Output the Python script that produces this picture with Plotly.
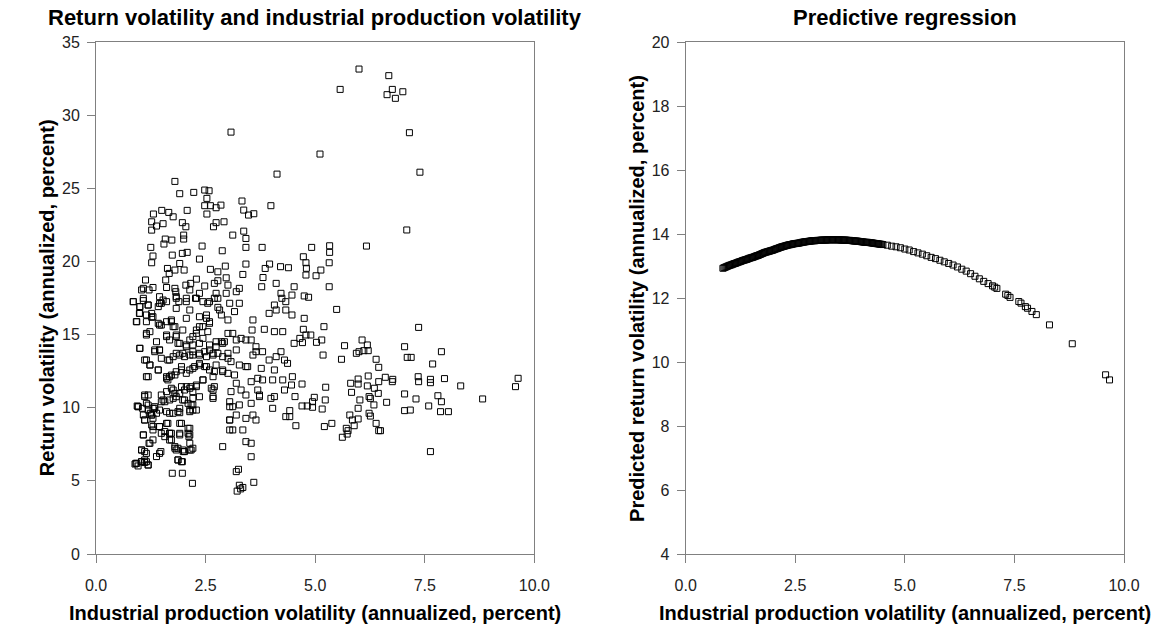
import plotly.graph_objects as go

# ---------------- Left panel: observed data ----------------
ip_vol = [
    # upper outliers
    6.00, 6.68, 6.76, 6.64, 6.83, 7.00, 5.57, 7.15, 5.11, 7.39, 7.09, 6.17, 4.92, 5.33, 5.33, 4.73, 4.79, 4.80, 4.79, 5.02, 5.13, 5.32, 4.52, 5.32,
    # upper cluster
    3.08, 4.13, 1.80, 1.91, 2.23, 2.48, 2.58, 2.53, 3.99, 3.33,
    2.48, 2.61, 2.74, 2.85, 2.53, 3.37, 3.48, 3.60, 1.50, 1.66,
    1.76, 2.08, 1.31, 1.27, 1.38, 1.27, 1.53, 1.97, 2.05, 2.00,
    2.00, 2.74, 2.92, 2.68, 3.12, 3.37, 3.42, 1.25, 1.58, 1.73,
    1.55, 2.42, 2.88, 3.42, 3.79, 1.30, 1.27, 1.74, 1.97, 2.08,
    2.36, 3.42, 3.96, 3.86, 4.21, 4.39, 1.63, 1.80, 1.91, 2.01,
    1.67, 2.61, 2.78, 2.95, 3.35, 3.81, 4.11, 1.13, 1.08, 1.30,
    1.59, 1.61, 1.80, 2.05, 2.16, 2.29, 2.48, 2.70, 2.78, 2.97,
    3.01, 3.27, 3.78,
    # middle cluster
    1.04, 1.21, 1.82, 2.14, 2.36, 2.74, 2.97, 3.20, 4.22,
    0.85, 1.08, 1.00, 1.19, 1.45, 1.49, 1.61, 1.83, 1.89, 2.06,
    2.14, 2.27, 2.44, 2.55, 2.70, 2.78, 3.05, 3.27, 3.16, 2.86,
    1.83, 1.42, 1.27, 0.99, 4.07, 4.33, 4.24, 4.11, 3.95, 4.33,
    0.93, 1.15, 1.27, 1.45, 1.61, 1.72, 1.80, 2.06, 2.36, 2.52,
    2.59, 2.44, 3.01, 3.58, 3.84, 3.56, 4.07, 4.26,
    1.15, 1.38, 1.61, 1.68, 1.83, 1.87, 2.06, 2.21, 2.29, 2.44,
    2.55, 2.74, 2.86, 2.93, 3.01, 3.12, 3.20, 3.31, 3.42, 3.54,
    3.65, 3.80, 1.00,
    1.11, 1.34, 1.45, 1.49, 1.64, 1.76, 1.91, 2.02, 2.14, 2.21,
    2.36, 2.48, 2.59, 2.67, 2.78, 2.89, 3.01, 3.08, 3.20, 3.42,
    3.58, 3.65, 3.95, 4.11, 4.22, 4.30, 4.37, 1.23,
    1.15, 1.42, 1.61, 1.68, 1.80, 1.95, 2.14, 2.25, 2.36, 2.48,
    2.59, 2.70, 2.89, 3.16, 3.27, 3.46, 3.77, 3.54, 3.69, 3.80,
    4.03, 4.26, 4.07,
    1.19, 1.49, 1.61, 1.72, 1.80, 1.95, 2.06, 2.14, 2.21, 2.29,
    2.44, 2.63, 2.70, 3.08, 3.20, 3.31, 3.42, 3.73, 3.99, 4.30, 3.69,
    0.96, 1.11, 1.19, 1.30, 1.49, 1.57, 1.76, 1.87, 2.02, 2.17,
    2.21, 2.67, 3.05, 3.12, 3.27, 3.54, 3.73, 4.03, 4.07,
    1.11, 1.27, 1.30, 1.45, 1.61, 1.68, 1.91, 2.10, 2.14, 3.05,
    3.20, 3.42, 3.58, 3.65, 3.12, 3.35, 4.33,
    1.08, 1.23, 1.49, 1.57, 1.72, 1.91, 2.14, 2.89, 3.42, 3.54, 1.68,
    1.04, 1.15, 1.45, 1.80, 1.83, 1.99, 2.14, 3.54, 0.93, 1.04, 1.11, 1.19, 1.87, 1.95,
    1.74, 1.97, 3.20, 3.25,
    # right-hand spread
    4.47, 4.75, 4.85, 5.49, 4.47, 4.75, 5.20, 4.73, 4.79, 4.90,
    4.65, 4.52, 4.71, 5.03, 5.15, 7.36, 6.07, 6.19, 5.67, 7.04,
    7.88, 5.18, 5.60, 5.94, 6.00, 6.11, 6.21, 6.39, 7.10, 7.19,
    6.45, 7.68, 4.48, 4.46, 4.70, 5.24, 4.54, 4.98, 4.94, 5.23,
    4.70, 4.82, 4.94, 5.16, 4.42, 4.42, 4.56, 5.21, 5.38, 5.62,
    5.73, 5.75, 5.71, 5.89, 5.79, 5.85, 5.98, 5.98, 5.98, 5.81,
    5.83, 6.02, 5.98, 6.21, 6.19, 6.23, 6.26, 6.35, 6.44, 6.34,
    6.23, 6.26, 6.39, 6.45, 6.49, 6.45, 6.60, 6.77, 6.76, 6.63,
    7.04, 7.30, 7.35, 7.36, 7.63, 7.63, 7.95, 8.32, 7.80, 7.88,
    7.59, 7.04, 7.17, 7.86, 8.04, 8.82, 9.57, 9.63, 7.63,
    # lower-left cluster
    0.94, 1.06, 1.15, 1.24, 1.34, 1.30, 1.38, 1.27, 1.30, 1.11,
    1.08, 1.21, 1.30, 1.04, 1.11, 1.15, 0.91, 1.04, 1.19, 1.38,
    1.48, 1.45, 1.57, 1.64, 1.68, 1.72, 1.68, 1.80, 1.87, 1.91,
    1.95, 1.91, 1.98, 2.02, 2.10, 2.14, 2.12, 2.17, 2.21, 2.14,
    2.21, 1.87, 1.97, 2.20, 3.05, 3.05, 0.89, 0.96, 1.11, 3.22,
    3.30, 3.27, 3.60, 3.35,
    # dense core (x 0.8-3.1, y 9.5-17.6)
    0.85, 1.00, 1.08, 1.19, 1.00, 0.92, 1.15, 1.30, 1.45, 1.53,
    1.42, 1.49, 1.23, 1.72, 1.76, 1.83, 1.98, 1.61, 1.15, 1.83,
    2.06, 2.29, 2.59, 2.78, 2.82, 2.52, 2.59, 2.36, 2.29, 2.14,
    1.91, 2.06, 2.21, 2.36, 2.59, 2.74, 2.89, 3.01, 2.67, 2.52,
    2.36, 2.21, 1.98, 1.83, 1.68, 1.45, 1.34, 1.00, 1.15, 1.23,
    1.42, 1.61, 1.72, 1.83, 1.95, 2.06, 2.21, 2.36, 2.52, 2.74,
    2.89, 3.01, 2.67, 2.44, 2.29, 2.17, 2.02, 1.91, 1.76, 1.64,
    1.19, 1.53, 1.68, 1.83, 1.98, 2.10, 2.21, 2.36, 2.67, 2.67,
    3.05, 1.11, 1.19, 1.34, 0.96, 1.08, 1.27, 1.45, 1.61, 1.76,
    1.91, 2.14, 2.29,
]

ret_vol = [
    33.15, 32.70, 31.76, 31.40, 31.15, 31.60, 31.76, 28.80, 27.34, 26.10, 22.15, 21.05, 20.96, 21.07, 20.62, 20.32, 19.91, 19.53, 19.07, 19.02, 19.41, 19.91, 18.27, 18.27,
    28.84, 25.97, 25.47, 24.63, 24.72, 24.88, 24.83, 24.31, 23.81, 24.13,
    23.81, 23.81, 23.67, 23.85, 23.24, 23.51, 23.17, 23.26, 23.49, 23.35,
    23.05, 23.49, 23.24, 22.71, 22.42, 22.14, 22.58, 22.65, 22.37, 21.80,
    21.53, 22.65, 22.71, 22.37, 21.80, 22.07, 21.57, 20.96, 21.53, 21.46,
    21.19, 21.05, 20.73, 20.96, 20.96, 20.37, 19.91, 20.43, 20.55, 20.62,
    20.16, 19.82, 19.82, 19.52, 19.64, 19.57, 19.52, 19.41, 19.86, 19.41,
    19.18, 19.46, 19.29, 19.68, 19.11, 18.90, 18.50, 18.73, 18.16, 18.22,
    18.73, 18.22, 18.16, 18.38, 18.50, 18.79, 18.32, 18.50, 18.68, 18.88,
    18.38, 18.16, 18.27,
    18.05, 18.05, 17.93, 18.05, 17.82, 17.82, 17.82, 17.93, 17.82,
    17.25, 17.32, 16.91, 17.02, 17.59, 17.14, 17.25, 17.48, 17.25, 17.25,
    16.68, 17.48, 17.25, 17.14, 17.48, 16.86, 17.14, 17.14, 16.57, 16.34,
    16.79, 16.91, 16.45, 16.45, 17.02, 17.25, 17.48, 16.68, 16.45, 16.68,
    15.88, 15.88, 16.18, 15.65, 15.88, 16.00, 15.54, 16.11, 16.22, 16.11,
    15.88, 15.54, 16.00, 16.00, 15.36, 15.31, 15.20, 15.20,
    14.97, 14.51, 14.97, 14.63, 14.97, 14.40, 14.29, 14.86, 15.31, 14.74,
    15.20, 14.51, 14.51, 14.51, 15.08, 15.08, 14.63, 14.74, 14.63, 14.63,
    14.17, 13.83, 14.06,
    13.26, 13.95, 13.95, 13.38, 13.26, 13.49, 13.60, 13.49, 13.60, 13.83,
    13.72, 13.83, 13.95, 13.60, 13.72, 13.49, 13.38, 13.15, 13.95, 12.81,
    13.60, 13.83, 13.26, 13.49, 13.83, 13.26, 13.03, 12.92,
    12.12, 12.58, 12.01, 12.12, 12.24, 12.81, 12.58, 12.81, 13.03, 12.81,
    12.58, 12.47, 12.47, 12.24, 12.92, 12.81, 12.69, 11.78, 12.01, 11.90,
    11.90, 11.90, 12.58,
    10.87, 10.87, 11.10, 11.33, 10.98, 11.44, 11.44, 11.33, 11.10, 11.44,
    11.90, 11.33, 11.44, 11.10, 11.67, 11.21, 10.87, 10.87, 10.64, 11.21, 11.21,
    10.07, 10.76, 9.84, 9.96, 10.41, 10.41, 10.64, 9.73, 10.53, 10.19,
    9.84, 10.76, 10.41, 10.07, 10.19, 10.30, 10.76, 9.96, 10.76,
    9.16, 9.50, 8.71, 8.71, 8.93, 8.25, 8.93, 8.59, 8.14, 9.16,
    9.50, 9.27, 9.50, 9.16, 8.48, 8.48, 9.39,
    8.14, 7.57, 8.25, 8.02, 8.25, 8.14, 7.57, 7.34, 7.68, 7.57, 7.79,
    7.11, 6.88, 6.88, 7.34, 7.11, 7.00, 7.11, 6.65, 6.20, 6.31, 6.43, 6.08, 6.43, 6.31,
    5.52, 5.52, 5.63, 5.79,
    17.70, 17.64, 17.55, 16.72, 16.34, 16.11, 15.54, 15.36, 14.97, 14.97,
    14.74, 14.40, 14.45, 14.47, 14.63, 15.49, 14.63, 14.29, 14.24, 14.17,
    13.83, 13.60, 13.31, 13.72, 13.83, 13.90, 13.90, 13.31, 13.44, 13.44,
    12.76, 12.99, 12.12, 11.55, 11.62, 11.40, 10.76, 10.71, 10.41, 10.53,
    10.12, 10.12, 10.03, 9.91, 9.80, 9.39, 8.77, 8.71, 8.93, 7.98,
    8.20, 8.43, 8.59, 8.77, 9.50, 9.16, 9.23, 11.96, 11.62, 11.67,
    11.05, 10.53, 9.96, 12.17, 11.49, 10.76, 10.64, 11.33, 10.98, 10.19,
    9.62, 9.43, 8.93, 8.43, 8.43, 11.78, 12.08, 11.94, 11.78, 10.37,
    10.94, 10.60, 12.12, 11.78, 11.94, 11.71, 11.99, 11.49, 10.82, 10.41,
    10.12, 9.80, 9.84, 9.73, 9.73, 10.60, 11.44, 12.01, 7.00,
    10.12, 9.96, 10.30, 9.62, 9.96, 9.28, 9.62, 8.82, 8.48, 9.16,
    8.14, 7.57, 7.80, 7.11, 7.00, 6.31, 6.20, 6.31, 6.09, 6.66,
    7.00, 8.71, 8.37, 8.93, 8.25, 7.80, 9.62, 7.23, 7.23, 9.66,
    8.93, 8.25, 7.11, 7.00, 8.25, 8.59, 8.02, 7.11, 7.23, 9.85,
    10.19, 6.43, 6.31, 4.83, 9.16, 8.48, 6.15, 6.02, 6.25, 4.30,
    4.45, 4.70, 4.90, 4.55,
    17.25, 16.91, 17.48, 17.02, 16.45, 15.88, 16.34, 16.22, 17.13, 17.36,
    15.77, 15.65, 15.20, 15.88, 15.54, 14.86, 15.31, 14.86, 15.08, 17.59,
    17.48, 17.48, 17.25, 17.48, 16.68, 16.34, 15.77, 15.54, 15.08, 14.63,
    14.40, 14.17, 14.29, 14.40, 14.29, 14.17, 14.40, 13.72, 13.72, 13.49,
    13.60, 13.60, 13.72, 13.72, 13.26, 13.94, 13.83, 14.06, 13.26, 12.92,
    12.58, 12.12, 12.23, 12.46, 12.58, 12.35, 12.69, 12.92, 12.81, 12.92,
    12.58, 12.35, 12.12, 11.90, 11.55, 11.44, 11.21, 10.98, 11.21, 11.90,
    12.12, 10.53, 10.53, 10.75, 10.53, 10.30, 10.64, 10.75, 11.21, 10.64,
    10.07, 10.87, 10.18, 10.07, 10.07, 9.50, 9.50, 9.84, 9.73, 9.62,
    9.96, 9.73, 9.84,
]

# ---------------- Right panel: fitted values ----------------
pred_ip_vol = [
    0.85, 0.90, 0.95, 1.00, 1.05, 1.10, 1.15, 1.20, 1.25, 1.30,
    1.35, 1.40, 1.45, 1.50, 1.55, 1.60, 1.65, 1.70, 1.75, 1.80,
    1.85, 1.90, 1.95, 2.00, 2.05, 2.10, 2.15, 2.20, 2.25, 2.30,
    2.35, 2.40, 2.45, 2.50, 2.55, 2.60, 2.65, 2.70, 2.75, 2.80,
    2.85, 2.90, 2.95, 3.00, 3.05, 3.10, 3.15, 3.20, 3.25, 3.30,
    3.35, 3.40, 3.45, 3.50, 3.55, 3.60, 3.65, 3.70, 3.75, 3.80,
    3.85, 3.90, 3.95, 4.00, 4.05, 4.10, 4.15, 4.20, 4.25, 4.30,
    4.35, 4.40, 4.45, 4.50, 4.60, 4.70, 4.80, 4.90, 5.00, 5.10,
    5.20, 5.30, 5.40, 5.50, 5.60, 5.70, 5.80, 5.90, 6.00, 6.10,
    6.20, 6.30, 6.40, 6.50, 6.60, 6.70, 6.80, 6.90, 7.00, 7.05,
    7.10, 7.30, 7.35, 7.40, 7.60, 7.65, 7.75, 7.80, 7.90, 8.00,
    8.30, 8.82, 9.58, 9.67,
]
pred_ret_vol = [
    12.93, 12.96, 12.99, 13.02, 13.04, 13.07, 13.09, 13.12, 13.14, 13.17,
    13.19, 13.21, 13.24, 13.26, 13.28, 13.31, 13.33, 13.36, 13.39, 13.42,
    13.44, 13.46, 13.48, 13.50, 13.53, 13.55, 13.58, 13.60, 13.62, 13.64,
    13.66, 13.67, 13.69, 13.70, 13.71, 13.72, 13.74, 13.75, 13.76, 13.77,
    13.78, 13.79, 13.79, 13.80, 13.80, 13.81, 13.81, 13.81, 13.82, 13.82,
    13.82, 13.82, 13.82, 13.82, 13.81, 13.81, 13.81, 13.80, 13.80, 13.79,
    13.78, 13.78, 13.77, 13.76, 13.75, 13.74, 13.74, 13.73, 13.72, 13.71,
    13.70, 13.69, 13.68, 13.67, 13.65, 13.62, 13.60, 13.57, 13.53, 13.50,
    13.45, 13.41, 13.37, 13.32, 13.27, 13.23, 13.18, 13.13, 13.08, 13.03,
    12.97, 12.90, 12.84, 12.76, 12.68, 12.60, 12.52, 12.45, 12.38, 12.34,
    12.30, 12.12, 12.08, 12.02, 11.89, 11.84, 11.73, 11.68, 11.58, 11.48,
    11.16, 10.57, 9.60, 9.44,
]
# additional fitted values in the densely populated part of the curve
pred_ip_vol_dense = [
    0.875, 0.925, 0.975, 1.025, 1.075, 1.125, 1.175, 1.225, 1.275, 1.325,
    1.375, 1.425, 1.475, 1.525, 1.575, 1.625, 1.675, 1.725, 1.775, 1.825,
    1.875, 1.925, 1.975, 2.025, 2.075, 2.125, 2.175, 2.225, 2.275, 2.325,
    2.375, 2.425, 2.475, 2.525, 2.575, 2.625, 2.675, 2.725, 2.775, 2.825,
    2.875, 2.925, 2.975, 3.025, 3.075, 3.125, 3.175, 3.225, 3.275, 3.325,
    3.375, 3.425, 3.475, 3.525, 3.575, 3.625, 3.675, 3.725, 3.775, 3.825,
    3.875, 3.925, 3.975, 4.025, 4.075, 4.125, 4.175, 4.225, 4.275, 4.325,
    4.375, 4.425, 4.475,
]
pred_ret_vol_dense = [
    12.945, 12.975, 13.005, 13.030, 13.055, 13.080, 13.105, 13.130, 13.155, 13.180,
    13.200, 13.225, 13.250, 13.270, 13.295, 13.320, 13.345, 13.375, 13.405, 13.430,
    13.450, 13.470, 13.490, 13.515, 13.540, 13.565, 13.590, 13.610, 13.630, 13.650,
    13.665, 13.680, 13.695, 13.705, 13.715, 13.730, 13.745, 13.755, 13.765, 13.775,
    13.785, 13.790, 13.795, 13.800, 13.805, 13.810, 13.810, 13.815, 13.820, 13.820,
    13.820, 13.820, 13.820, 13.815, 13.810, 13.810, 13.805, 13.800, 13.795, 13.785,
    13.780, 13.775, 13.765, 13.755, 13.745, 13.740, 13.735, 13.725, 13.715, 13.705,
    13.695, 13.685, 13.675,
]

x_ticks = [0, 2.5, 5, 7.5, 10]
x_ticktext = ["0.0", "2.5", "5.0", "7.5", "10.0"]
left_y_ticks = [0, 5, 10, 15, 20, 25, 30, 35]
right_y_ticks = [4, 6, 8, 10, 12, 14, 16, 18, 20]

FONT = "Liberation Sans, Arial, Helvetica, sans-serif"
AXIS_GRAY = "#808080"

marker = dict(symbol="square-open", size=6, color="black", line=dict(width=1, color="black"))

fig = go.Figure()
fig.add_trace(go.Scatter(x=ip_vol, y=ret_vol, mode="markers", marker=marker,
                         xaxis="x", yaxis="y", showlegend=False, hoverinfo="x+y"))
fig.add_trace(go.Scatter(x=pred_ip_vol + pred_ip_vol_dense, y=pred_ret_vol + pred_ret_vol_dense,
                         mode="markers", marker=marker,
                         xaxis="x2", yaxis="y2", showlegend=False, hoverinfo="x+y"))

common = dict(showline=True, linecolor=AXIS_GRAY, linewidth=1, mirror=True,
              ticks="outside", ticklen=8, tickcolor=AXIS_GRAY, tickwidth=1,
              showgrid=False, zeroline=False,
              tickfont=dict(family=FONT, size=16, color="#222222"))

fig.update_layout(
    width=1152, height=629,
    margin=dict(l=96, r=24, t=42, b=75),
    paper_bgcolor="white", plot_bgcolor="white",
    xaxis=dict(domain=[0, 0.4264], range=[0, 10], tickvals=x_ticks, ticktext=x_ticktext,
               anchor="y", ticklabelstandoff=9, **common),
    yaxis=dict(domain=[0, 1], range=[0, 35], tickvals=left_y_ticks, anchor="x",
               ticklabelstandoff=4, **common),
    xaxis2=dict(domain=[0.5736, 1], range=[0, 10], tickvals=x_ticks, ticktext=x_ticktext,
                anchor="y2", ticklabelstandoff=9, **common),
    yaxis2=dict(domain=[0, 1], range=[4, 20], tickvals=right_y_ticks, anchor="x2",
                ticklabelstandoff=4, **common),
)

title_font = dict(family=FONT, size=22, color="black")
axis_font = dict(family=FONT, size=20, color="black")
annotations = [
    dict(text="<b>Return volatility and industrial production volatility</b>", x=0.2132, y=1.0469,
         font=title_font),
    dict(text="<b>Predictive regression</b>", x=0.7868, y=1.0469, font=title_font),
    dict(text="<b>Industrial production volatility (annualized, percent)</b>", x=0.2132, y=-0.1152,
         font=axis_font),
    dict(text="<b>Industrial production volatility (annualized, percent)</b>", x=0.7868, y=-0.1152,
         font=axis_font),
    dict(text="<b>Return volatility (annualized, percent)</b>", x=-0.0475, y=0.5,
         textangle=-90, font=axis_font),
    dict(text="<b>Predicted return volatility (annualized, percent)</b>", x=0.5262, y=0.5,
         textangle=-90, font=axis_font),
]
for a in annotations:
    a.update(xref="paper", yref="paper", xanchor="center", yanchor="middle", showarrow=False)
fig.update_layout(annotations=annotations)

fig.write_html("out.html", config={"displayModeBar": False},
               post_script="document.body.style.margin='0';")
